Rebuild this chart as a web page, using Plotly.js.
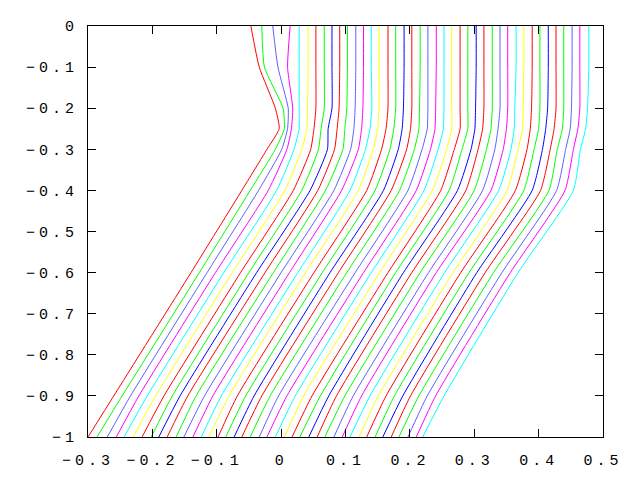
<!DOCTYPE html>
<html><head><meta charset="utf-8">
<script src="https://cdn.plot.ly/plotly-3.0.1.min.js"></script>
<style>
html,body{margin:0;padding:0;background:#fff;}
#chart{width:640px;height:480px;}
.xtick text,.ytick text{letter-spacing:4px;}
</style></head><body><div id="chart"></div>
<script>
// depth levels (y) at which each curve's x position was read
const yLevels = [0, -0.1, -0.2, -0.25, -0.3, -0.4, -0.6, -0.9, -1];

const xAtY000 = [-0.047,-0.030,-0.013,0.014,0.028,0.042,0.054,0.067,0.079,0.091,0.103,0.116,0.128,0.140,0.152,0.166,0.178,0.191,0.203,0.216,0.228,0.241,0.253,0.265,0.278,0.290,0.303,0.315,0.328,0.340,0.352,0.365,0.377,0.390,0.402,0.415,0.427,0.439,0.452,0.464,0.478];
const xAtY010 = [-0.034,-0.026,-0.005,0.010,0.028,0.042,0.054,0.067,0.079,0.091,0.103,0.116,0.128,0.140,0.152,0.166,0.178,0.191,0.203,0.216,0.228,0.241,0.253,0.265,0.278,0.290,0.303,0.315,0.328,0.340,0.352,0.365,0.377,0.390,0.402,0.415,0.427,0.439,0.452,0.464,0.478];
const xAtY020 = [-0.009,0.003,0.011,0.018,0.028,0.041,0.054,0.067,0.079,0.090,0.102,0.115,0.127,0.141,0.152,0.166,0.178,0.190,0.203,0.215,0.228,0.240,0.253,0.265,0.278,0.290,0.302,0.315,0.328,0.340,0.352,0.363,0.376,0.389,0.402,0.414,0.427,0.439,0.451,0.464,0.476];
const xAtY025 = [-0.003,0.005,0.010,0.016,0.028,0.040,0.051,0.062,0.073,0.087,0.099,0.113,0.125,0.138,0.150,0.163,0.175,0.188,0.201,0.214,0.227,0.239,0.252,0.265,0.278,0.290,0.301,0.313,0.326,0.337,0.350,0.362,0.375,0.387,0.400,0.411,0.424,0.437,0.449,0.461,0.473];
const xAtY030 = [-0.022,-0.009,0.001,0.009,0.020,0.032,0.046,0.058,0.072,0.083,0.096,0.108,0.120,0.131,0.143,0.156,0.169,0.182,0.195,0.207,0.219,0.232,0.244,0.257,0.269,0.281,0.295,0.306,0.319,0.332,0.345,0.357,0.368,0.382,0.393,0.406,0.418,0.429,0.442,0.454,0.465];
const xAtY040 = [-0.061,-0.048,-0.035,-0.020,-0.007,0.006,0.019,0.032,0.045,0.057,0.069,0.082,0.094,0.107,0.120,0.133,0.146,0.159,0.171,0.184,0.197,0.210,0.222,0.235,0.248,0.261,0.274,0.287,0.300,0.313,0.326,0.338,0.351,0.364,0.377,0.390,0.403,0.416,0.428,0.441,0.454];
const xAtY060 = [-0.140,-0.127,-0.115,-0.102,-0.089,-0.076,-0.063,-0.050,-0.038,-0.025,-0.012,0.000,0.013,0.026,0.038,0.051,0.064,0.076,0.089,0.102,0.115,0.128,0.140,0.153,0.166,0.178,0.190,0.203,0.216,0.229,0.241,0.254,0.267,0.279,0.292,0.304,0.317,0.330,0.343,0.356,0.368];
const xAtY090 = [-0.260,-0.247,-0.234,-0.221,-0.208,-0.195,-0.182,-0.169,-0.157,-0.145,-0.132,-0.119,-0.106,-0.093,-0.081,-0.068,-0.055,-0.042,-0.030,-0.017,-0.004,0.009,0.022,0.035,0.048,0.061,0.074,0.086,0.099,0.112,0.125,0.138,0.151,0.163,0.176,0.189,0.201,0.214,0.227,0.240,0.253];
const xAtY100 = [-0.300,-0.286,-0.270,-0.256,-0.244,-0.230,-0.216,-0.202,-0.190,-0.177,-0.163,-0.151,-0.137,-0.124,-0.112,-0.098,-0.086,-0.073,-0.061,-0.048,-0.034,-0.022,-0.009,0.005,0.017,0.029,0.043,0.056,0.068,0.082,0.095,0.107,0.121,0.133,0.146,0.158,0.171,0.183,0.197,0.210,0.220];

const xTickVals = [-0.3,-0.2,-0.1,0,0.1,0.2,0.3,0.4,0.5];
const xTickText = ['\u22120.3','\u22120.2','\u22120.1','0','0.1','0.2','0.3','0.4','0.5'];
const yTickVals = [0,-0.1,-0.2,-0.3,-0.4,-0.5,-0.6,-0.7,-0.8,-0.9,-1];
const yTickText = ['0','\u22120.1','\u22120.2','\u22120.3','\u22120.4','\u22120.5','\u22120.6','\u22120.7','\u22120.8','\u22120.9','\u22121'];

const lineColors = ['#ff0000','#00ff00','#5f5fff','#ff00ff','#00ffff','#ffff00','#ff0000','#00ff00','#0000ff'];

const levelArrays = [xAtY000,xAtY010,xAtY020,xAtY025,xAtY030,xAtY040,xAtY060,xAtY090,xAtY100];
const traces = [];
for (let i = 0; i < xAtY000.length; i++) {
  traces.push({
    x: levelArrays.map(a => a[i]),
    y: yLevels,
    type: 'scatter',
    mode: 'lines',
    line: {color: lineColors[i % lineColors.length], width: 1, shape: 'spline', smoothing: 0.5},
    hoverinfo: 'skip',
    showlegend: false
  });
}

const axisCommon = {
  showgrid: false, zeroline: false, showline: true, linecolor: '#000', linewidth: 1,
  mirror: 'ticks', ticks: 'inside', ticklen: 8, tickwidth: 1, tickcolor: '#000',
  tickfont: {family: 'Liberation Mono, DejaVu Sans Mono, monospace', size: 15, color: '#000'},
  tickmode: 'array'
};

const layout = {
  width: 640, height: 480,
  margin: {l: 88, r: 37, t: 26, b: 43, pad: 0},
  paper_bgcolor: '#fff', plot_bgcolor: '#fff',
  showlegend: false,
  xaxis: Object.assign({}, axisCommon, {range: [-0.3, 0.5], tickvals: xTickVals, ticktext: xTickText, ticklabelstandoff: 9}),
  yaxis: Object.assign({}, axisCommon, {range: [-1, 0], tickvals: yTickVals, ticktext: yTickText, ticklabelstandoff: 6})
};

Plotly.newPlot('chart', traces, layout, {staticPlot: true, displayModeBar: false});
</script></body></html>
